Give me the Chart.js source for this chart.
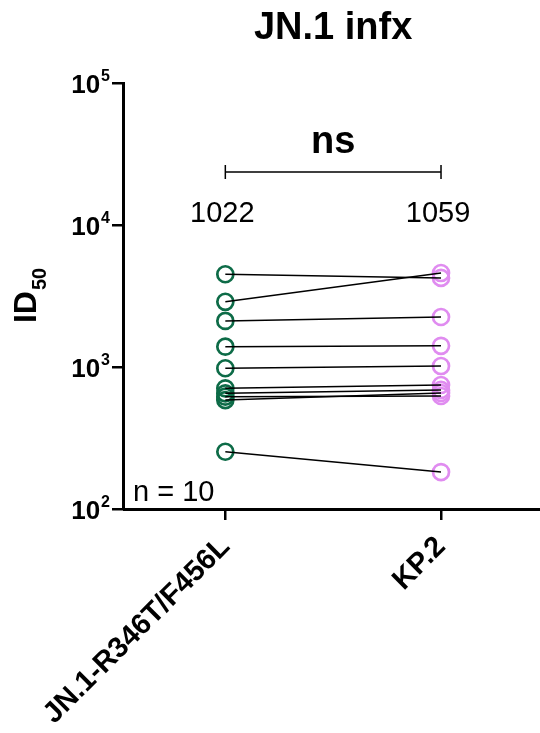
<!DOCTYPE html>
<html>
<head>
<meta charset="utf-8">
<script src="https://cdn.jsdelivr.net/npm/chart.js@4.4.1/dist/chart.umd.min.js"></script>
<style>
  body { margin: 0; background: #fff; }
  canvas { display: block; }
</style>
</head>
<body>
<canvas id="chart" width="540" height="733"></canvas>
<script>
// datos
const categories = ['JN.1-R346T/F456L', 'KP.2'];
const jn1Values = [4500, 2880, 2110, 1390, 980, 708, 653, 618, 585, 253];
const kp2Values = [4240, 4590, 2250, 1410, 1016, 747, 689, 625, 656, 182];
const geoMeanLabels = ['1022', '1059'];
const yTickValues = [100, 1000, 10000, 100000];
const chartTitle = 'JN.1 infx';
const sigLabel = 'ns';
const nLabel = 'n = 10';

const FONT = '"Liberation Sans", Arial, sans-serif';
const GREEN = '#0d6b47';
const PINK = '#e08cf0';

// una linea por sujeto
const pairDatasets = jn1Values.map((v, i) => ({
    data: [{ x: 0, y: v }, { x: 1, y: kp2Values[i] }],
    showLine: true,
    borderColor: '#000',
    borderWidth: 1.5,
    pointRadius: 0,
    clip: false
}));

const pointDataset = (values, xPos, color) => ({
    data: values.map(v => ({ x: xPos, y: v })),
    showLine: false,
    pointStyle: 'circle',
    pointRadius: 8,
    pointBorderWidth: 2.7,
    pointBorderColor: color,
    pointBackgroundColor: 'rgba(255,255,255,0)',
    clip: false
});

const extras = {
    id: 'extras',
    afterDraw(chart) {
        const ctx = chart.ctx;
        const x = chart.scales.x;
        const y = chart.scales.y;
        const area = chart.chartArea;
        ctx.save();
        ctx.fillStyle = '#000';
        ctx.strokeStyle = '#000';

        // el eje x llega hasta el borde
        ctx.fillRect(area.left, Math.round(area.bottom) - 1, chart.width - area.left, 3);

        // etiquetas del eje y: 10^n
        yTickValues.forEach(v => {
            const py = y.getPixelForValue(v);
            const exp = String(Math.round(Math.log10(v)));
            ctx.font = 'bold 16px ' + FONT;
            const supW = ctx.measureText(exp).width;
            const supX = 110 - supW;
            ctx.textAlign = 'left';
            ctx.textBaseline = 'alphabetic';
            ctx.fillText(exp, supX, py - 2);
            ctx.font = 'bold 26px ' + FONT;
            ctx.textAlign = 'right';
            ctx.fillText('10', supX - 1, py + 10);
        });

        // titulo del eje y: ID50
        ctx.save();
        ctx.translate(0, 296);
        ctx.rotate(-Math.PI / 2);
        ctx.textAlign = 'left';
        ctx.font = 'bold 32px ' + FONT;
        const idW = ctx.measureText('ID').width;
        ctx.font = 'bold 20px ' + FONT;
        const subW = ctx.measureText('50').width;
        const startX = -(idW + subW) / 2;
        ctx.font = 'bold 32px ' + FONT;
        ctx.fillText('ID', startX, 36);
        ctx.font = 'bold 20px ' + FONT;
        ctx.fillText('50', startX + idW + 1, 46);
        ctx.restore();

        // titulo
        const cx = (x.getPixelForValue(0) + x.getPixelForValue(1)) / 2;
        ctx.textAlign = 'center';
        ctx.font = 'bold 38px ' + FONT;
        ctx.fillText(chartTitle, cx, 39);

        // corchete de significancia
        const x0 = x.getPixelForValue(0);
        const x1 = x.getPixelForValue(1);
        ctx.lineWidth = 1.5;
        ctx.beginPath();
        ctx.moveTo(x0, 172); ctx.lineTo(x1, 172);
        ctx.moveTo(x0, 165); ctx.lineTo(x0, 179);
        ctx.moveTo(x1, 165); ctx.lineTo(x1, 179);
        ctx.stroke();
        ctx.font = 'bold 38px ' + FONT;
        ctx.fillText(sigLabel, cx, 153);

        // medias geometricas
        ctx.font = '29px ' + FONT;
        geoMeanLabels.forEach((t, i) => {
            ctx.fillText(t, x.getPixelForValue(i) - 3, 222);
        });

        // n
        ctx.textAlign = 'left';
        ctx.font = '29px ' + FONT;
        ctx.fillText(nLabel, area.left + 10, 501);

        ctx.restore();
    }
};

new Chart(document.getElementById('chart'), {
    type: 'scatter',
    data: {
        datasets: [...pairDatasets, pointDataset(jn1Values, 0, GREEN), pointDataset(kp2Values, 1, PINK)]
    },
    options: {
        responsive: false,
        animation: false,
        layout: { padding: { top: 83, right: 0, left: 0, bottom: 0 } },
        plugins: { legend: { display: false }, tooltip: { enabled: false }, title: { display: false } },
        scales: {
            x: {
                type: 'linear',
                min: -0.4744,
                max: 1.4093,
                afterBuildTicks: (scale) => { scale.ticks = [{ value: 0 }, { value: 1 }]; },
                afterFit: (scale) => { scale.height = 224; },
                grid: { display: true, drawOnChartArea: false, drawTicks: true, tickLength: 11, color: '#000', lineWidth: 2.5 },
                border: { display: false },
                ticks: {
                    color: '#000',
                    font: { family: FONT, size: 29, weight: 'bold' },
                    maxRotation: 45,
                    minRotation: 45,
                    padding: 10,
                    callback: (v) => categories[v]
                }
            },
            y: {
                type: 'logarithmic',
                min: 100,
                max: 100000,
                afterBuildTicks: (scale) => { scale.ticks = yTickValues.map(v => ({ value: v })); },
                afterFit: (scale) => { scale.width = 123; },
                grid: { display: true, drawOnChartArea: false, drawTicks: true, tickLength: 11, color: '#000', lineWidth: 2.5 },
                border: { display: true, color: '#000', width: 3 },
                ticks: { display: false }
            }
        }
    },
    plugins: [extras]
});
</script>
</body>
</html>
